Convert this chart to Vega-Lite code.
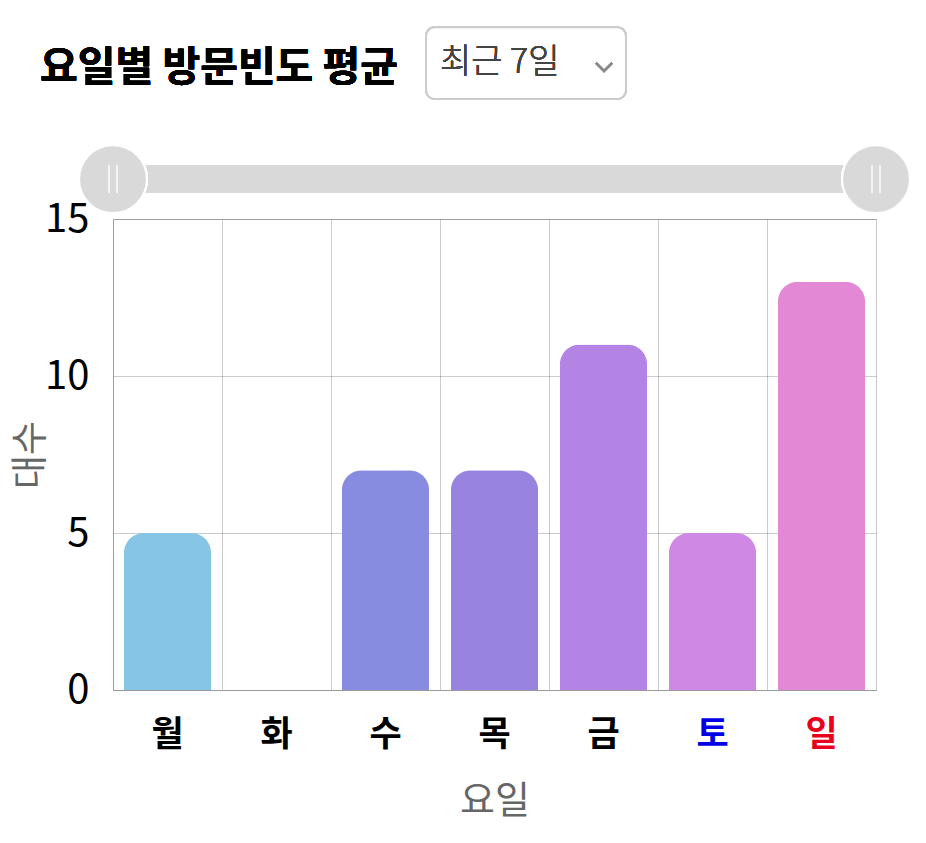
{
  "$schema": "https://vega.github.io/schema/vega-lite/v6.json",
  "autosize": "none",
  "width": 763,
  "height": 471,
  "padding": {"left": 113, "top": 219, "right": 50, "bottom": 153},
  "background": "white",
  "data": {
    "values": [
      {"day": "월", "count": 5},
      {"day": "화", "count": 0},
      {"day": "수", "count": 7},
      {"day": "목", "count": 7},
      {"day": "금", "count": 11},
      {"day": "토", "count": 5},
      {"day": "일", "count": 13}
    ]
  },
  "layer": [
    {
      "mark": {
        "type": "bar",
        "width": {"band": 0.8},
        "cornerRadiusTopLeft": 20,
        "cornerRadiusTopRight": 20
      },
      "encoding": {
        "x": {
          "field": "day",
          "type": "nominal",
          "sort": null,
          "scale": {"paddingInner": 0, "paddingOuter": 0},
          "axis": {
            "title": "요일",
            "bandPosition": 0,
            "labelAngle": 0,
            "labelFontSize": 35,
            "labelFontWeight": "bold",
            "labelPadding": 27,
            "labelColor": {"expr": "datum.value === '토' ? '#0000e6' : datum.value === '일' ? '#e8001c' : '#000000'"},
            "titleFontSize": 38,
            "titleFontWeight": "normal",
            "titleColor": "#666666",
            "titlePadding": 30
          }
        },
        "y": {
          "field": "count",
          "type": "quantitative",
          "scale": {"domain": [0, 15], "nice": false},
          "axis": {
            "title": "대수",
            "values": [0, 5, 10, 15],
            "labelFontSize": 40,
            "labelColor": "#000000",
            "labelPadding": 24,
            "titleFontSize": 37,
            "titleFontWeight": "normal",
            "titleColor": "#666666",
            "titlePadding": -6,
            "domain": false
          }
        },
        "color": {
          "field": "day",
          "type": "nominal",
          "scale": {
            "domain": ["월", "화", "수", "목", "금", "토", "일"],
            "range": ["#86c5e5", "#cccccc", "#878ce1", "#9883e1", "#b384e3", "#cf89e4", "#e388d5"]
          },
          "legend": null
        }
      }
    },
    {
      "layer": [
        {
          "mark": {"type": "rule", "color": "#d9d9d9", "strokeWidth": 28, "strokeCap": "butt"},
          "encoding": {
            "x": {"datum": 0, "type": "quantitative", "scale": {"domain": [0, 7]}, "axis": null},
            "x2": {"datum": 7},
            "y": {"datum": 16.27, "type": "quantitative"}
          }
        },
        {
          "mark": {"type": "point", "shape": "circle", "filled": true, "size": 4600, "color": "#d9d9d9", "stroke": "#ffffff", "strokeWidth": 2, "opacity": 1},
          "encoding": {
            "x": {"datum": 0, "type": "quantitative", "scale": {"domain": [0, 7]}, "axis": null},
            "y": {"datum": 16.27, "type": "quantitative"}
          }
        },
        {
          "mark": {"type": "point", "shape": "circle", "filled": true, "size": 4600, "color": "#d9d9d9", "stroke": "#ffffff", "strokeWidth": 2, "opacity": 1},
          "encoding": {
            "x": {"datum": 7, "type": "quantitative", "scale": {"domain": [0, 7]}, "axis": null},
            "y": {"datum": 16.27, "type": "quantitative"}
          }
        },
        {
          "mark": {"type": "point", "shape": "M-0.29,-1L-0.29,1M0.29,-1L0.29,1", "filled": false, "size": 784, "stroke": "#f4f4f4", "strokeWidth": 1.5, "opacity": 1},
          "encoding": {
            "x": {"datum": 0, "type": "quantitative", "scale": {"domain": [0, 7]}, "axis": null},
            "y": {"datum": 16.27, "type": "quantitative"}
          }
        },
        {
          "mark": {"type": "point", "shape": "M-0.29,-1L-0.29,1M0.29,-1L0.29,1", "filled": false, "size": 784, "stroke": "#f4f4f4", "strokeWidth": 1.5, "opacity": 1},
          "encoding": {
            "x": {"datum": 7, "type": "quantitative", "scale": {"domain": [0, 7]}, "axis": null},
            "y": {"datum": 16.27, "type": "quantitative"}
          }
        },
        {
          "mark": {"type": "text", "text": "요일별 방문빈도 평균", "align": "left", "baseline": "middle", "fontSize": 41, "fontWeight": "bold", "color": "#000000"},
          "encoding": {
            "x": {"datum": -0.67, "type": "quantitative", "scale": {"domain": [0, 7]}, "axis": null},
            "y": {"datum": 19.78, "type": "quantitative"}
          }
        },
        {
          "mark": {"type": "rect", "fill": "#ffffff", "stroke": "#cccccc", "strokeWidth": 2, "cornerRadius": 9},
          "encoding": {
            "x": {"datum": 2.872, "type": "quantitative", "scale": {"domain": [0, 7]}, "axis": null},
            "x2": {"datum": 4.706},
            "y": {"datum": 21.11, "type": "quantitative"},
            "y2": {"datum": 18.82}
          }
        },
        {
          "mark": {"type": "text", "text": "최근 7일", "align": "left", "baseline": "middle", "fontSize": 34, "fontWeight": 300, "color": "#444444"},
          "encoding": {
            "x": {"datum": 3.0, "type": "quantitative", "scale": {"domain": [0, 7]}, "axis": null},
            "y": {"datum": 19.97, "type": "quantitative"}
          }
        },
        {
          "mark": {"type": "point", "shape": "M-1,-0.5L0,0.5L1,-0.5", "filled": false, "size": 256, "stroke": "#888888", "strokeWidth": 2, "opacity": 1},
          "encoding": {
            "x": {"datum": 4.505, "type": "quantitative", "scale": {"domain": [0, 7]}, "axis": null},
            "y": {"datum": 19.84, "type": "quantitative"}
          }
        }
      ]
    }
  ],
  "resolve": {"scale": {"x": "independent"}},
  "config": {
    "font": "Noto Sans CJK KR",
    "view": {"stroke": "#c8c8c8", "strokeWidth": 1},
    "axis": {
      "grid": true,
      "gridColor": "#000000",
      "gridOpacity": 0.2,
      "ticks": false,
      "zindex": 1,
      "domainColor": "#999999",
      "labelFont": "Noto Sans CJK KR",
      "titleFont": "Noto Sans CJK KR"
    }
  }
}
